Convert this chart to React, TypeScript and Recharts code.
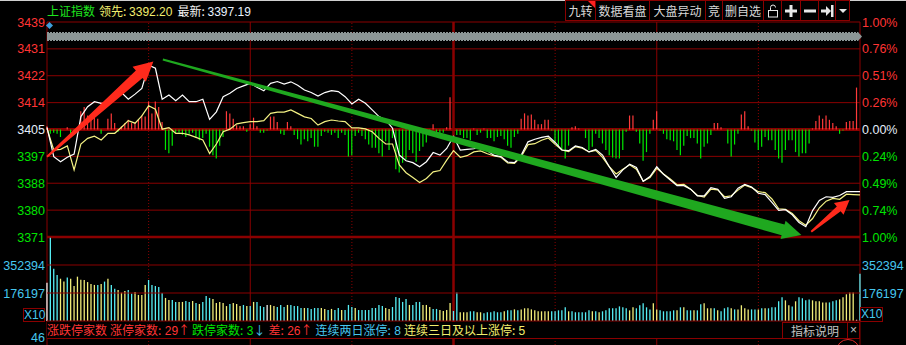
import React from "react";
import { ComposedChart, Bar, Line, XAxis, YAxis, ReferenceLine, Cell } from "recharts";

// ---- chart data ----

const prevClose = 3405.2;
const priceTicks = [3439.25, 3430.74, 3422.23, 3413.71, 3405.2, 3396.69, 3388.18, 3379.66, 3371.15];
const pctLabels = ["1.00%", "0.76%", "0.51%", "0.26%", "0.00%", "0.24%", "0.49%", "0.74%", "1.00%"];
const volTicks = [176.197, 352.394]; // thousands
const volMax = 528.591;
const minuteGrid = [0, 30, 60, 90, 120, 150, 180, 210, 240];

// index price, every 2 minutes (09:30 .. 15:00)
const whiteLine = [
  3405.9, 3396.6, 3395.0, 3396.4, 3397.4, 3409.3, 3412.4, 3414.0, 3413.5, 3413.5,
  3415.6, 3416.9, 3414.8, 3416.4, 3418.2, 3425.6, 3424.6, 3414.8, 3416.1, 3414.3,
  3416.1, 3414.0, 3414.0, 3414.8, 3408.4, 3410.8, 3415.6, 3416.7, 3418.2, 3419.0,
  3419.8, 3418.6, 3417.5, 3419.8, 3420.4, 3419.6, 3420.3, 3419.2, 3417.7, 3416.9,
  3415.8, 3416.9, 3417.5, 3417.2, 3415.6, 3413.3, 3414.8, 3413.5, 3411.4, 3409.3,
  3408.2, 3405.6, 3397.1, 3395.3, 3394.7, 3393.4, 3395.0, 3397.9, 3397.1, 3399.2,
  3403.0, 3398.7, 3398.9, 3399.1, 3399.8, 3398.5, 3397.0, 3396.6, 3394.9, 3394.7,
  3397.1, 3401.3, 3402.1, 3402.7, 3403.1, 3401.1, 3398.7, 3398.5, 3400.0, 3399.5,
  3398.1, 3398.9, 3397.1, 3393.4, 3390.0, 3392.4, 3394.2, 3393.2, 3388.8, 3390.3,
  3393.4, 3391.0, 3389.2, 3387.4, 3387.4, 3386.3, 3384.2, 3384.2, 3386.8, 3386.3,
  3383.4, 3383.9, 3386.6, 3387.8, 3387.0, 3385.0, 3384.6, 3382.1, 3379.6, 3379.8,
  3378.2, 3375.7, 3374.4, 3379.5, 3382.7, 3383.9, 3383.7, 3384.3, 3385.5, 3385.5,
  3385.5,
];

// leading (equal weight) line, every 2 minutes
const yellowLine = [
  3405.5, 3398.7, 3398.9, 3400.0, 3392.4, 3400.6, 3402.4, 3403.1, 3401.9, 3404.0,
  3404.0, 3405.9, 3408.0, 3407.2, 3409.5, 3412.7, 3411.6, 3405.3, 3405.8, 3404.0,
  3404.0, 3403.5, 3402.7, 3401.9, 3397.6, 3400.6, 3404.5, 3405.3, 3407.0, 3407.4,
  3407.7, 3407.7, 3408.0, 3410.3, 3410.7, 3410.7, 3411.4, 3410.3, 3409.2, 3408.7,
  3406.6, 3407.7, 3408.2, 3407.9, 3407.7, 3405.7, 3405.7, 3405.4, 3404.5, 3402.4,
  3400.6, 3400.6, 3394.0, 3391.5, 3390.0, 3388.4, 3389.7, 3391.8, 3392.2, 3395.5,
  3398.5, 3396.4, 3396.9, 3398.1, 3398.4, 3397.5, 3396.8, 3396.4, 3394.6, 3394.5,
  3396.6, 3400.4, 3400.7, 3401.8, 3402.5, 3400.5, 3398.7, 3398.2, 3399.8, 3399.3,
  3398.1, 3398.6, 3396.4, 3393.4, 3391.1, 3392.6, 3394.0, 3392.6, 3388.8, 3390.0,
  3392.9, 3391.1, 3389.5, 3387.7, 3387.8, 3386.3, 3384.3, 3383.8, 3386.3, 3386.1,
  3383.9, 3384.2, 3386.0, 3387.6, 3386.8, 3385.5, 3385.2, 3383.2, 3380.1, 3379.9,
  3378.6, 3376.3, 3374.9, 3377.0, 3380.4, 3382.5, 3383.4, 3383.1, 3384.7, 3384.6,
  3384.5,
];

// red/green breadth bars per minute
const breadth = [
  3, -4, -3, -4, -7, 0, 2, -4, -3, 0,
  17, 21, 13, 12, 15, 10, -4, 0, 10, 15,
  6, -2, 3, 6, 9, 6, 6, 9, 13, 12,
  26, 15, 26, 21, 7, -19, -22, -15, -3, -3,
  -5, -7, -4, -3, -8, -10, -8, -4, -16, -24,
  -27, -15, -7, 17, 15, 10, 4, 3, 3, -2,
  5, 11, 3, -3, -3, -1, 12, 12, 7, -4,
  -5, 7, 3, -5, -9, -14, -9, -11, -8, -16,
  -16, -6, -2, -3, -5, -3, -8, -3, -5, -25,
  -24, -6, -3, -6, -9, -14, -17, -17, -22, -25,
  -11, -19, -8, -37, -40, -31, -28, -19, -22, -30,
  -20, -16, -12, -5, 5, -5, -5, -3, 2, 30,
  0, -5, -5, -8, -8, -10, 1, -5, -3, 1,
  -8, -8, -11, -7, -6, -9, -15, -17, -7, -4,
  10, 15, 13, 14, 9, 5, 5, 9, 9, -1,
  -12, -16, -19, -27, -15, 2, 3, 1, 0, -8,
  -19, -16, -4, -8, -13, -19, -24, -26, -27, -27,
  -19, -2, 13, 13, -2, -13, -29, -21, -4, 9,
  17, -1, -4, -9, -10, -11, -19, -24, -15, -6,
  -8, -8, -13, -27, -16, -13, -5, 6, 6, 2,
  0, -13, -25, -14, -4, 14, 17, 3, -1, -12,
  -19, -16, -7, -10, -10, -19, -27, -31, -19, -10,
  -10, -21, -25, -22, -22, -13, 1, 8, 13, 10,
  13, 9, 6, 3, -4, -1, 7, 8, 8, 39,
  0,
];

// volume per minute, thousands
const volume = [
  241, 524, 329, 290, 266, 248, 273, 266, 220, 279,
  260, 258, 245, 233, 227, 227, 233, 248, 266, 227,
  203, 195, 178, 189, 195, 172, 183, 164, 164, 227,
  258, 227, 220, 214, 176, 145, 132, 132, 120, 120,
  120, 126, 120, 126, 113, 107, 120, 157, 145, 138,
  113, 120, 113, 94, 107, 113, 107, 94, 101, 94,
  94, 120, 120, 94, 88, 101, 101, 94, 88, 101,
  88, 101, 101, 94, 94, 82, 82, 82, 76, 82,
  82, 82, 76, 69, 76, 69, 82, 69, 69, 101,
  88, 82, 69, 69, 69, 69, 82, 82, 101, 94,
  82, 76, 88, 151, 145, 120, 138, 101, 101, 120,
  120, 101, 101, 88, 76, 76, 69, 63, 69, 113,
  63,
  180, 55, 55, 55, 61, 61, 55, 55, 48, 55,
  55, 61, 55, 55, 61, 67, 67, 73, 67, 73,
  80, 80, 73, 67, 61, 61, 61, 61, 61, 61,
  67, 67, 86, 61, 61, 55, 55, 55, 55, 67,
  61, 61, 55, 61, 67, 80, 80, 80, 92, 86,
  80, 67, 86, 80, 99, 111, 86, 73, 111, 73,
  67, 61, 61, 61, 67, 67, 86, 86, 67, 67,
  67, 67, 105, 111, 80, 80, 80, 67, 61, 80,
  86, 80, 73, 73, 99, 80, 73, 73, 73, 73,
  80, 80, 80, 86, 86, 124, 149, 130, 99, 92,
  124, 149, 143, 130, 136, 130, 124, 124, 117, 117,
  117, 124, 130, 136, 150, 168, 180, 180, 8, 298,
];

// c = up (cyan), y = down (yellow), w = flat
const volColors =
  "wcccyycyyy" + "yyyyycycyc" + "cyyyccyyyy" + "cccccyyccy" + "yccycycccy" + "yyyycyyycy" +
  "cycccwyycc" + "cyccccyccc" + "cyycyccycc" + "cycccccccc" + "yycccccycc" + "cyyyccyyyy" + "c" +
  "cyyyccyycc" + "ccccyccycy" + "yyyyyyyycc" + "cccycccccc" + "ycyccccccc" + "cyycccccyy" +
  "cccccycycc" + "yccyyycycc" + "cycyyyyccy" + "cycccccyyc" + "yccccyyyyy" + "cccyyyyywc";

// hand-drawn annotation arrows: [fromMinute, fromPrice, toMinute, toPrice]
const arrowLines = [
  [0, 3396.6, 31.4, 3426.7],
  [34.2, 3427.4, 222.7, 3371.8],
  [225.6, 3372.8, 236.9, 3382.9],
];

const header = { name: "上证指数", lead: "3392.20", last: "3397.19" };
const limitStats = { up: 29, down: 3, diff: 26, twoDay: 8, threeDay: 5 };
const toolButtons = ["九转", "数据看盘", "大盘异动", "竞", "删自选", "lock", "plus", "minus", "end", "menu"];

// ---- styles ----

const RED = "#ff3434";
const GREEN = "#00e400";
const FLAT = "#e4eefa";
const CYAN = "#46c6ee";
const YEL = "#f2ee6e";
const GRID = "#8a0000";
const NUM_FONT = "'Liberation Sans', Arial, sans-serif";
const CJK_FONT = "'Noto Sans CJK SC', 'Noto Sans', sans-serif";
const BAR_COLORS: Record<string, string> = { c: "#56eef4", y: "#f2ee7a", w: "#f0f0f0" };

const W = 906;
const PRICE_DOMAIN = [priceTicks[priceTicks.length - 1], priceTicks[0]];

function priceColor(v: number) {
  if (v > prevClose + 0.01) return RED;
  if (v < prevClose - 0.01) return GREEN;
  return FLAT;
}

const LeftPriceTick = (props: any) => {
  const { x, y, payload } = props;
  return (
    <text x={x} y={y} dy={4.5} textAnchor="end" fill={priceColor(payload.value)} fontSize={12.5} fontFamily={NUM_FONT}>
      {Math.round(payload.value)}
    </text>
  );
};

const RightPctTick = (props: any) => {
  const { x, y, payload } = props;
  const i = priceTicks.indexOf(payload.value);
  return (
    <text x={x} y={y} dy={4.5} textAnchor="start" fill={priceColor(payload.value)} fontSize={12.5} fontFamily={NUM_FONT}>
      {pctLabels[i]}
    </text>
  );
};

const VolTick = (props: any) => {
  const { x, y, payload, anchor } = props;
  return (
    <text x={x} y={y} dy={4.5} textAnchor={anchor} fill={CYAN} fontSize={12.5} fontFamily={NUM_FONT}>
      {Math.round(payload.value * 1000)}
    </text>
  );
};

function arrowShape(fill: string, tailW: number, neckW: number, headW: number, headL: number) {
  return (p: any) => {
    const { x1, y1, x2, y2 } = p;
    if (![x1, y1, x2, y2].every((n) => Number.isFinite(n))) return <g />;
    const dx = x2 - x1;
    const dy = y2 - y1;
    const len = Math.hypot(dx, dy) || 1;
    const ux = dx / len;
    const uy = dy / len;
    const nx = -uy;
    const ny = ux;
    const bx = x2 - ux * headL;
    const by = y2 - uy * headL;
    const pts = [
      [x1 + (nx * tailW) / 2, y1 + (ny * tailW) / 2],
      [bx + (nx * neckW) / 2, by + (ny * neckW) / 2],
      [bx + (nx * headW) / 2, by + (ny * headW) / 2],
      [x2, y2],
      [bx - (nx * headW) / 2, by - (ny * headW) / 2],
      [bx - (nx * neckW) / 2, by - (ny * neckW) / 2],
      [x1 - (nx * tailW) / 2, y1 - (ny * tailW) / 2],
    ];
    return <polygon points={pts.map((q) => q.join(",")).join(" ")} fill={fill} />;
  };
}

const ARROW_STYLES = [
  arrowShape("#ff2a1c", 2, 10, 20, 19),
  arrowShape("#1fa81f", 2, 11, 19, 19),
  arrowShape("#ff2a1c", 2, 6, 15, 14),
];

function ToolIcon({ kind }: { kind: string }) {
  const c = "#e8e8e8";
  if (kind === "lock")
    return (
      <svg width="12" height="14">
        <rect x="1.5" y="6.5" width="9" height="6.5" fill="none" stroke={c} />
        <path d="M3.5 6.5 V3.5 A2.5 2.5 0 0 1 8.5 3.5" fill="none" stroke={c} />
      </svg>
    );
  if (kind === "plus")
    return (
      <svg width="12" height="12">
        <rect x="0" y="4.5" width="12" height="3" fill={c} />
        <rect x="4.5" y="0" width="3" height="12" fill={c} />
      </svg>
    );
  if (kind === "minus")
    return (
      <svg width="12" height="12">
        <rect x="0" y="4.5" width="12" height="3" fill={c} />
      </svg>
    );
  if (kind === "end")
    return (
      <svg width="13" height="12">
        <rect x="0" y="4.5" width="5" height="3" fill={c} />
        <polygon points="5,1 10,6 5,11" fill={c} />
        <rect x="10" y="0" width="2.5" height="12" fill={c} />
      </svg>
    );
  if (kind === "menu")
    return (
      <svg width="8" height="6">
        <polygon points="0,1 8,1 4,5" fill={c} />
      </svg>
    );
  return <span>{kind}</span>;
}

// invisible series so that overlay layers get their axes resolved
const ghost = (axis: string) => (
  <Line yAxisId={axis} dataKey="w" stroke="none" dot={false} activeDot={false} connectNulls isAnimationActive={false} />
);

export default function App() {
  const rows = breadth.map((b, m) => ({
    m,
    b,
    w: m % 2 === 0 ? whiteLine[m / 2] : null,
    yl: m % 2 === 0 ? yellowLine[m / 2] : null,
    v: volume[m] ?? 0,
    c: volColors[m] ?? "c",
  }));

  const btnWidths = [31, 55, 57, 18, 42, 19, 20, 19, 18, 15];
  const abs = (l: number, t: number): React.CSSProperties => ({ position: "absolute", left: l, top: t });
  const num: React.CSSProperties = { fontFamily: NUM_FONT };

  return (
    <div style={{ position: "fixed", left: 0, top: 0, width: W, height: 345, background: "#000", overflow: "hidden" }}>
      {/* vertical time grid */}
      <div style={abs(0, 14)}>
        <ComposedChart width={W} height={331} data={rows} margin={{ top: 8, right: 46, bottom: 0, left: 47 }}>
          <XAxis type="number" dataKey="m" domain={[0, 240]} hide />
          <YAxis yAxisId="f" hide width={0} domain={PRICE_DOMAIN} allowDataOverflow />
          {ghost("f")}
          {minuteGrid.map((m) => (
            <ReferenceLine
              key={m}
              yAxisId="f"
              x={m}
              stroke={GRID}
              strokeWidth={m === 120 ? 2.5 : 1}
              strokeDasharray={m % 60 === 30 ? "1 2" : undefined}
              ifOverflow="visible"
            />
          ))}
        </ComposedChart>
      </div>

      {/* price panel horizontal grid */}
      <div style={abs(0, 14)}>
        <ComposedChart width={W} height={231} data={rows} margin={{ top: 8, right: 46, bottom: 8, left: 47 }}>
          <XAxis type="number" dataKey="m" domain={[0, 240]} hide />
          <YAxis yAxisId="p" hide width={0} domain={PRICE_DOMAIN} allowDataOverflow />
          {ghost("p")}
          {priceTicks.map((t, i) => (
            <ReferenceLine
              key={t}
              yAxisId="p"
              y={t}
              stroke={GRID}
              strokeWidth={t === prevClose ? 3 : i === priceTicks.length - 1 ? 2.5 : 1}
              ifOverflow="visible"
            />
          ))}
        </ComposedChart>
      </div>

      {/* price panel data */}
      <div style={abs(0, 14)}>
        <ComposedChart width={W} height={231} data={rows} margin={{ top: 8, right: 0, bottom: 8, left: 0 }}>
          <XAxis type="number" dataKey="m" domain={[0, 240]} hide />
          <YAxis
            yAxisId="p"
            orientation="left"
            width={47}
            domain={PRICE_DOMAIN}
            ticks={priceTicks}
            interval={0}
            allowDataOverflow
            axisLine={false}
            tickLine={false}
            tickSize={0}
            tickMargin={2}
            tick={(p: any) => <LeftPriceTick {...p} />}
          />
          <YAxis
            yAxisId="r"
            orientation="right"
            width={46}
            domain={PRICE_DOMAIN}
            ticks={priceTicks}
            interval={0}
            allowDataOverflow
            axisLine={false}
            tickLine={false}
            tickSize={0}
            tickMargin={2}
            tick={(p: any) => <RightPctTick {...p} />}
          />
          <YAxis yAxisId="b" orientation="right" hide width={0} domain={[-100, 100]} allowDataOverflow />
          <Bar dataKey="b" yAxisId="b" barSize={1.2} isAnimationActive={false}>
            {rows.map((r) => (
              <Cell key={r.m} fill={r.b >= 0 ? "#ff3a3a" : "#00e800"} />
            ))}
          </Bar>
          <Line yAxisId="p" dataKey="yl" type="linear" stroke="#f4f284" strokeWidth={1.2} dot={false} activeDot={false} connectNulls isAnimationActive={false} />
          <Line yAxisId="p" dataKey="w" type="linear" stroke="#ffffff" strokeWidth={1.2} dot={false} activeDot={false} connectNulls isAnimationActive={false} />
        </ComposedChart>
      </div>

      {/* volume panel */}
      <div style={abs(0, 229)}>
        <ComposedChart width={W} height={100} data={rows} margin={{ top: 8, right: 0, bottom: 8, left: 0 }}>
          <XAxis type="number" dataKey="m" domain={[0, 240]} hide />
          <YAxis
            yAxisId="v"
            orientation="left"
            width={47}
            domain={[0, volMax]}
            ticks={volTicks}
            interval={0}
            allowDataOverflow
            axisLine={false}
            tickLine={false}
            tickSize={0}
            tickMargin={2}
            tick={(p: any) => <VolTick {...p} anchor="end" />}
          />
          <YAxis
            yAxisId="v2"
            orientation="right"
            width={46}
            domain={[0, volMax]}
            ticks={volTicks}
            interval={0}
            allowDataOverflow
            axisLine={false}
            tickLine={false}
            tickSize={0}
            tickMargin={2}
            tick={(p: any) => <VolTick {...p} anchor="start" />}
          />
          {[0, ...volTicks].map((t) => (
            <ReferenceLine key={t} yAxisId="v" y={t} stroke={GRID} strokeWidth={1} ifOverflow="visible" />
          ))}
          <Bar dataKey="v" yAxisId="v" barSize={1.3} isAnimationActive={false}>
            {rows.map((r) => (
              <Cell key={r.m} fill={BAR_COLORS[r.c] || BAR_COLORS.c} />
            ))}
          </Bar>
        </ComposedChart>
      </div>

      {/* annotation arrows */}
      <div style={abs(0, 14)}>
        <ComposedChart width={W} height={231} data={rows} margin={{ top: 8, right: 46, bottom: 8, left: 47 }}>
          <XAxis type="number" dataKey="m" domain={[0, 240]} hide />
          <YAxis yAxisId="p" hide width={0} domain={PRICE_DOMAIN} allowDataOverflow />
          {ghost("p")}
          {arrowLines.map((a, i) => (
            <ReferenceLine
              key={i}
              yAxisId="p"
              segment={[
                { x: a[0], y: a[1] },
                { x: a[2], y: a[3] },
              ]}
              ifOverflow="visible"
              shape={ARROW_STYLES[i]}
            />
          ))}
        </ComposedChart>
      </div>

      {/* header */}
      <div style={{ ...abs(0, 0), width: W, height: 1, background: "#cfcfcf" }} />
      <div style={{ ...abs(47, 3), fontSize: 12, lineHeight: "15px", whiteSpace: "nowrap", fontFamily: CJK_FONT }}>
        <span style={{ color: "#1ee41e" }}>{header.name}</span>
        <span style={{ color: YEL, marginLeft: 4 }}>领先: </span>
        <span style={{ color: YEL, fontFamily: NUM_FONT }}>{header.lead}</span>
        <span style={{ color: "#f4f4f4", marginLeft: 5 }}>最新: </span>
        <span style={{ color: "#e8f2ff", fontFamily: NUM_FONT }}>{header.last}</span>
      </div>
      <div style={{ ...abs(565, 0), display: "flex", height: 21 }}>
        {toolButtons.map((b, i) => (
          <div
            key={b}
            style={{
              position: "relative",
              width: btnWidths[i],
              height: 21,
              boxSizing: "border-box",
              border: `1px solid ${GRID}`,
              marginLeft: i === 0 ? 0 : -1,
              display: "flex",
              alignItems: "center",
              justifyContent: "center",
              color: "#d8d8d8",
              fontSize: 12,
              fontFamily: CJK_FONT,
            }}
          >
            <ToolIcon kind={b} />
            {i === 0 && (
              <svg width="7" height="7" style={{ position: "absolute", right: 0, top: 0 }}>
                <polygon points="0,0 7,0 7,7" fill="#ff2020" />
              </svg>
            )}
          </div>
        ))}
      </div>

      {/* auction band + marker */}
      <div style={{ ...abs(47, 33), width: 811, height: 7, background: "#8c9696" }} />
      <div style={{ ...abs(47, 32), width: 811, height: 1, background: "repeating-linear-gradient(90deg, #8c9696 0 2px, transparent 2px 3px)" }} />
      <div style={{ ...abs(47, 40), width: 811, height: 1, background: "repeating-linear-gradient(90deg, #8c9696 0 2px, transparent 2px 3px)" }} />
      <svg width="5" height="9" style={abs(858, 32)}>
        <polygon points="0,0 4,4.5 0,9" fill="#8c9696" />
      </svg>
      <div style={{ ...abs(47, 23), width: 5, height: 5, background: "#3d9fdc", transform: "rotate(45deg)" }} />

      {/* X10 boxes and extra label */}
      <div style={{ ...abs(23, 308), width: 22, height: 14, boxSizing: "border-box", border: `1px solid ${GRID}`, color: CYAN, fontSize: 12, lineHeight: "12px", fontFamily: NUM_FONT, textAlign: "center", background: "#000" }}>X10</div>
      <div style={{ ...abs(860, 307), width: 23, height: 15, boxSizing: "border-box", border: `1px solid ${GRID}`, color: CYAN, fontSize: 12, lineHeight: "13px", fontFamily: NUM_FONT, textAlign: "center", background: "#000" }}>X10</div>
      <div style={{ ...abs(20, 331), width: 25, textAlign: "right", color: CYAN, fontSize: 12.5, lineHeight: "14px", fontFamily: NUM_FONT }}>46</div>

      {/* limit up / down info bar */}
      <div
        style={{
          ...abs(47, 322),
          width: 813,
          height: 16,
          background: "#000",
          borderBottom: `1px solid ${GRID}`,
          fontFamily: CJK_FONT,
          fontSize: 12,
          lineHeight: "16px",
          whiteSpace: "nowrap",
        }}
      >
        <span style={{ color: RED }}>涨跌停家数</span>
        <span style={{ color: RED, marginLeft: 3 }}>涨停家数:<span style={num}> {limitStats.up}</span>↑</span>
        <span style={{ color: GREEN, marginLeft: 2 }}>跌停家数:<span style={num}> {limitStats.down}</span></span>
        <span style={{ color: CYAN }}>↓</span>
        <span style={{ color: RED, marginLeft: 3 }}>差:<span style={num}> {limitStats.diff}</span>↑</span>
        <span style={{ color: CYAN, marginLeft: 3 }}>连续两日涨停:<span style={num}> {limitStats.twoDay}</span></span>
        <span style={{ color: YEL, marginLeft: 3 }}>连续三日及以上涨停:<span style={num}> {limitStats.threeDay}</span></span>
      </div>
      <div style={{ ...abs(782, 322), width: 66, height: 17, boxSizing: "border-box", border: `1px solid ${GRID}`, color: "#c4c4c4", fontSize: 12, lineHeight: "15px", fontFamily: CJK_FONT, textAlign: "center", background: "#000" }}>指标说明</div>
      <div style={{ ...abs(847, 322), width: 13, height: 17, boxSizing: "border-box", border: `1px solid ${GRID}`, color: "#c4c4c4", fontSize: 12, lineHeight: "14px", fontFamily: NUM_FONT, textAlign: "center", background: "#000" }}>×</div>
      <div style={{ ...abs(836, 339), width: 24, height: 24, boxSizing: "border-box", borderRadius: "50%", border: "1px solid #e02828" }} />
    </div>
  );
}
